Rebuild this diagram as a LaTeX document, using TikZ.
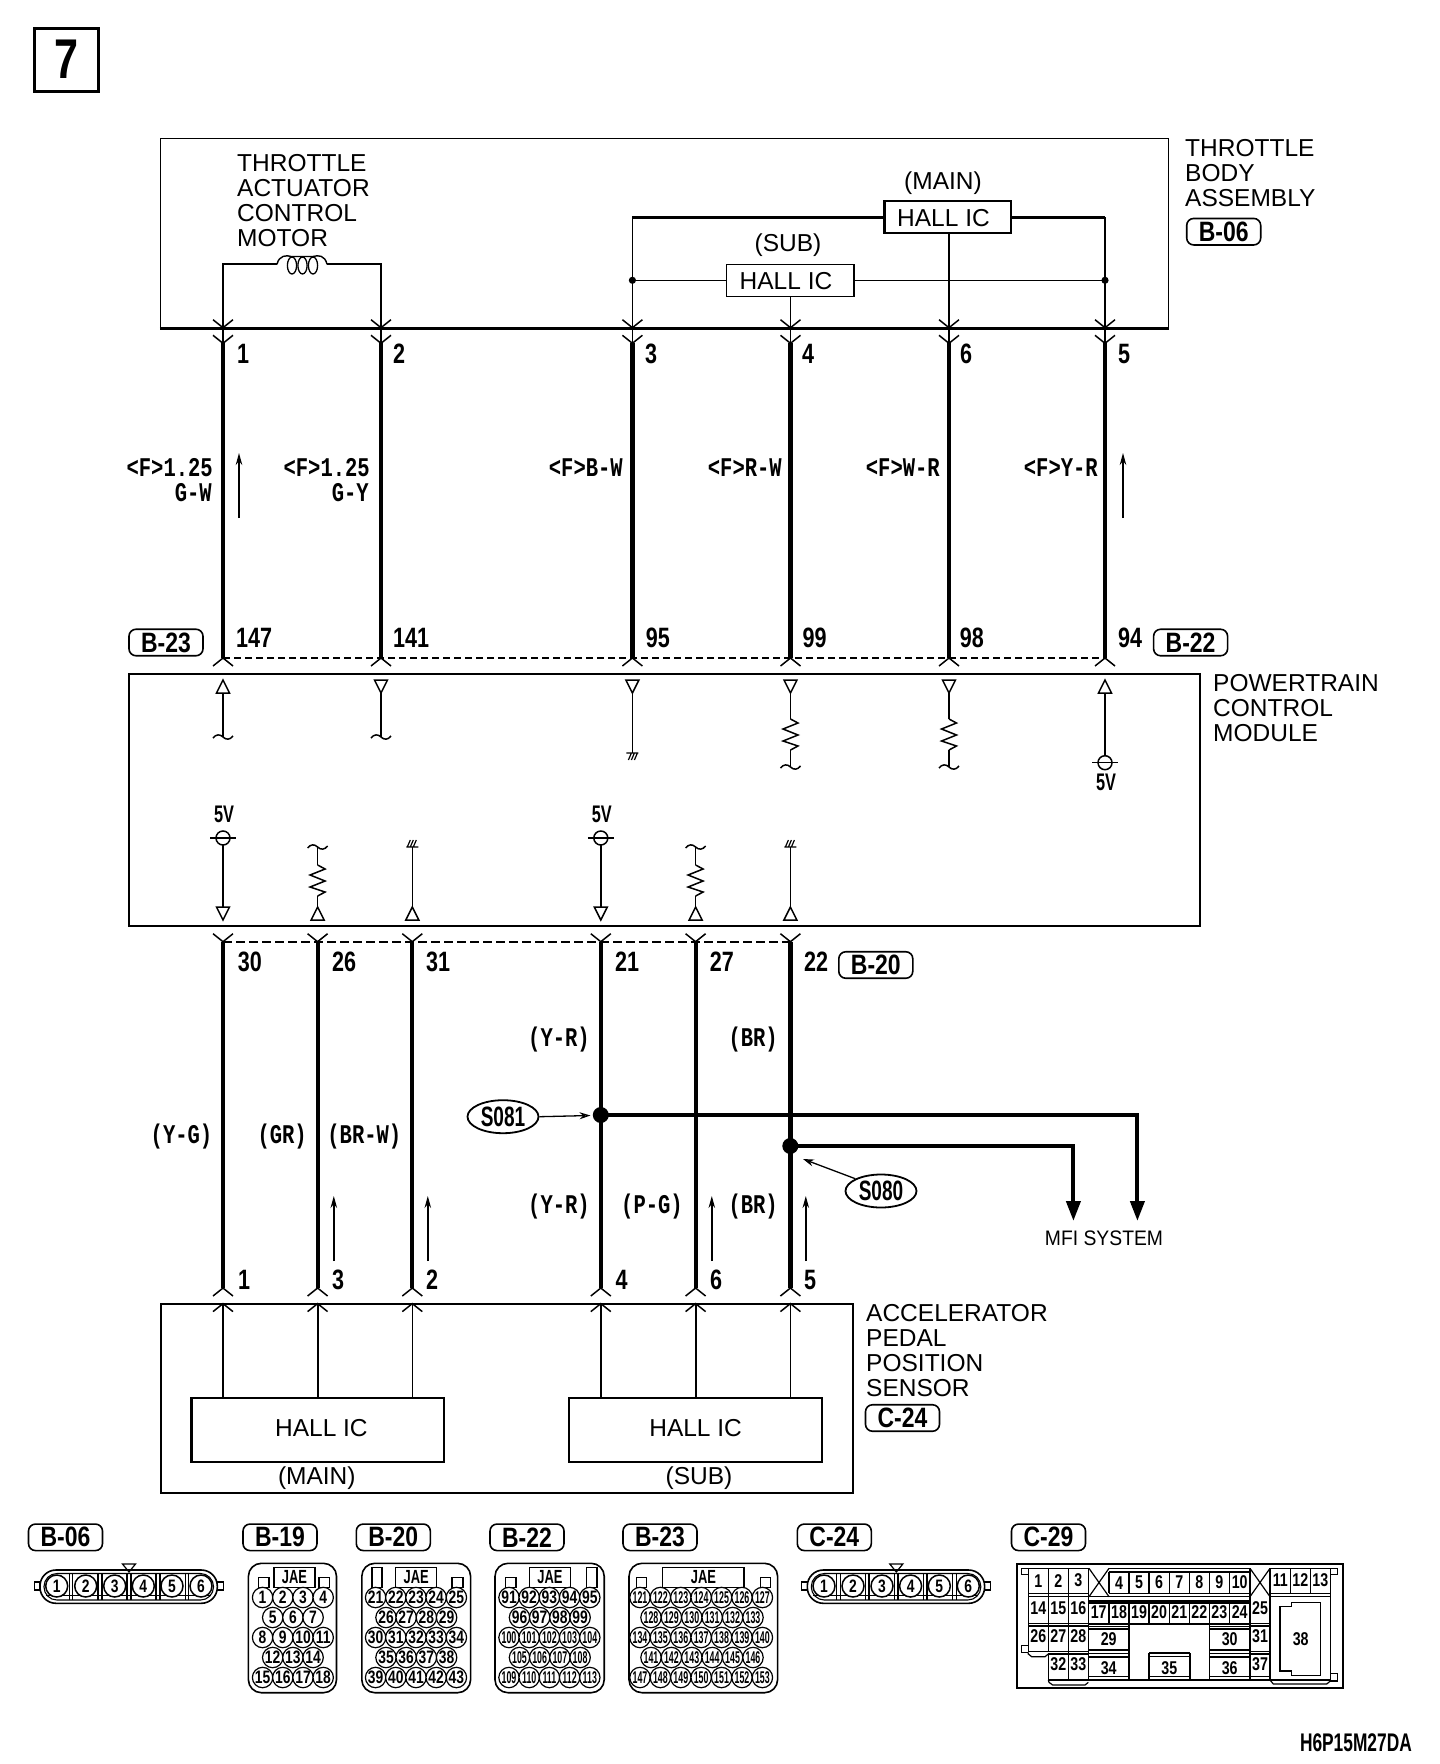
\documentclass[tikz,border=0pt]{standalone}
\usepackage{fontspec}
\setmainfont{Liberation Sans}
\newfontfamily\fnb[FakeStretch=0.77]{Liberation Sans}
\newfontfamily\fnd[FakeStretch=0.68]{Liberation Sans}
\newfontfamily\fne[FakeStretch=0.52]{Liberation Sans}
\newfontfamily\fnt[FakeStretch=0.82]{Liberation Sans}
\newfontfamily\fnm[FakeStretch=0.76]{Liberation Mono}
\newfontfamily\fnf[FakeStretch=0.92]{Liberation Sans}
\usetikzlibrary{arrows.meta,shapes.geometric}
\tikzset{
  thickwire/.style={line width=4.2pt},
  thinwire/.style={line width=1.4pt},
  midwire/.style={line width=2pt},
  sym/.style={line width=1.5pt},
  boxthin/.style={draw,line width=1.4pt,inner sep=0pt},
  boxmid/.style={draw,line width=2.2pt,inner sep=0pt},
  txt/.style={inner sep=0pt,font=\fontsize{24.5}{24.5}\selectfont},
  txtw/.style={txt,anchor=base west},
  txtc/.style={txt,anchor=base},
  pinnum/.style={inner sep=0pt,anchor=base west,font=\fnb\bfseries\fontsize{28}{28}\selectfont},
  wlab/.style={inner sep=0pt,anchor=base east,font=\fnm\bfseries\fontsize{27}{27}\selectfont},
  volt/.style={inner sep=0pt,anchor=base,font=\fnd\bfseries\fontsize{24}{24}\selectfont},
  tagbox/.style={draw,line width=1.6pt,rounded corners=7pt,minimum width=74pt,minimum height=26.5pt,inner sep=0pt,font=\fnt\bfseries\fontsize{28}{28}\selectfont},
  splice/.style={draw,ellipse,line width=1.8pt,minimum width=71pt,minimum height=33pt,inner sep=0pt,font=\fnd\bfseries\fontsize{28}{28}\selectfont},
  pinc/.style={draw,circle,fill=white,line width=1.2pt,minimum size=20.4pt,inner sep=0pt,font=\fnb\bfseries\fontsize{18}{18}\selectfont},
  pint/.style={pinc,font=\fne\bfseries\fontsize{17}{17}\selectfont},
  pinb/.style={pinc,minimum size=22pt,line width=1.5pt},
  cellnum/.style={inner sep=0pt,font=\fnb\bfseries\fontsize{18.5}{18.5}\selectfont},
  jaelab/.style={inner sep=0pt,font=\fnd\bfseries\fontsize{19}{19}\selectfont},
  connbody/.style={draw,line width=1.6pt,rounded corners=13pt},
  connpart/.style={draw,line width=1.2pt},
  flowarrow/.style={line width=1.4pt,-{Stealth[open,length=12pt,width=6.5pt]}},
  triD/.pic={\draw[sym] (-6.5,0)--(6.5,0)--(0,13)--cycle;},
  triU/.pic={\draw[sym] (-6.5,13)--(6.5,13)--(0,0)--cycle;},
  chevD/.pic={\draw[line width=1.5pt] (-10,-8)--(0,0)--(10,-8);},
  chevU/.pic={\draw[line width=1.5pt] (-10,8)--(0,0)--(10,8);},
  wave/.pic={\draw[sym] (-10,1) .. controls (-7,-3) and (-3,-3) .. (0,0) .. controls (3,3) and (7,3) .. (10,-1);},
  resist/.pic={\draw[sym] (0,0)--(7.5,4)--(-7.5,10)--(7.5,16)--(-7.5,22)--(7.5,27)--(0,31);},
  gndD/.pic={\draw[line width=1.2pt] (-6,0)--(6,0) (-1,0)--(-4,7) (2,0)--(-1,7) (5,0)--(2,7);},
  gndU/.pic={\draw[line width=1.2pt] (-6,0)--(6,0) (-2,0)--(1,-7) (1,0)--(4,-7) (-5,0)--(-2,-7);},
  srcsym/.pic={\draw[sym] (0,0) circle[radius=7pt]; \draw[sym] (-13,0)--(13,0);},
}
\begin{document}
\begin{tikzpicture}[x=1pt,y=-1pt]
\useasboundingbox (0,0) rectangle (1440,1764);

% page number
\node[draw,line width=2.6pt,minimum width=64pt,minimum height=63pt,inner sep=0pt,font=\fnb\bfseries\fontsize{56}{56}\selectfont] (pagebox) at (66.2,59.7) {7};

% ---------- main boxes
\node[boxthin,minimum width=1008pt,minimum height=189.5pt] (tbody) at (664.6,233) {};
\draw[line width=2.6pt] (tbody.south west) -- (tbody.south east);
\node[boxmid,minimum width=1070.7pt,minimum height=252pt] (pcm) at (664.3,799.7) {};
\node[boxmid,minimum width=692.3pt,minimum height=188.7pt] (aps) at (506.9,1398.3) {};

% ---------- pin coordinates
\foreach \n/\x in {a/223,b/381,c/632.4,d/790.5,e/949,f/1105}{
  \coordinate (tt\n) at (\x,327.7);
  \coordinate (tu\n) at (\x,343.3);
  \coordinate (tl\n) at (\x,658);
  \pic at (tt\n) {chevD};
  \pic at (tu\n) {chevD};
  \pic at (tl\n) {chevU};
  \draw[thickwire] (tu\n) -- (tl\n);
}
\foreach \n/\x in {a/223,b/317.6,c/412.3,d/600.8,e/695.6,f/790.4}{
  \coordinate (bu\n) at (\x,941.7);
  \coordinate (bl\n) at (\x,1288);
  \coordinate (bb\n) at (\x,1303.6);
  \pic at (bu\n) {chevD};
  \pic at (bl\n) {chevU};
  \pic at (bb\n) {chevU};
  \draw[thickwire] (bu\n) -- (bl\n);
}
\draw[line width=1.2pt,dash pattern=on 7pt off 4pt] (tla) -- (tlf);
\draw[line width=2pt,dash pattern=on 9pt off 4pt] (bua) -- (buf);

% ---------- throttle body internals
\node[txtw] (tm1) at (237,171.7) {THROTTLE};
\node[txtw] (tm2) at (237,196.7) {ACTUATOR};
\node[txtw] (tm3) at (237,221.7) {CONTROL};
\node[txtw] (tm4) at (237,246.7) {MOTOR};
\coordinate (coilL) at (277,264.3);
\coordinate (coilR) at (327,264.3);
\draw[midwire] (tua) -- (tua |- coilL) -- (coilL);
\draw[midwire] (tub) -- (tub |- coilR) -- (coilR);
\draw[line width=1.4pt] (coilL) .. controls (279,255) and (287,255) .. (291,256.5) -- (313,256.5) .. controls (318,255) and (325,255) .. (coilR);
\foreach \x in {292,302.5,313}{\draw[line width=1.3pt] (\x,265.5) ellipse[x radius=4.6pt,y radius=8.5pt];}

\node[boxmid,fill=white,minimum width=126.2pt,minimum height=32pt] (hallM) at (947.6,217.3) {};
\node[txtc] (hallMt) at (943.5,226.5) {HALL IC};
\node[txtc] (mainA) at (943,189.5) {(MAIN)};
\node[boxthin,line width=1.6pt,fill=white,minimum width=127.2pt,minimum height=32pt] (hallS) at (790.1,280.3) {};
\node[txtc] (hallSt) at (786,289.3) {HALL IC};
\node[txtc] (subA) at (788,251.5) {(SUB)};
\draw[line width=2.6pt] (hallM.west) -- (tuc |- hallM.west) ;
\draw[line width=2.6pt] (hallM.east) -- (tuf |- hallM.east);
\draw[thinwire] (tuc |- hallM.west) -- (tuc);
\draw[thinwire] (tuf |- hallM.east) -- (tuf);
\draw[thinwire] (hallS.west) -- (tuc |- hallS.west);
\draw[thinwire] (hallS.east) -- (tuf |- hallS.east);
\fill (tuc |- hallS.west) circle[radius=3.6pt];
\fill (tuf |- hallS.east) circle[radius=3.6pt];
\draw[line width=1.1pt] (hallS.south -| tud) -- (tud);
\draw[midwire] (hallM.south -| tue) -- (tue);

\node[txtw] (tb1) at (1185,156) {THROTTLE};
\node[txtw] (tb2) at (1185,181) {BODY};
\node[txtw] (tb3) at (1185,206) {ASSEMBLY};
\node[tagbox] (tagTop) at (1223.7,231.7) {B-06};

% ---------- upper pin numbers and wire labels
\foreach \t/\x in {1/237,2/393,3/645,4/802,6/959.8,5/1118}{\node[pinnum] (utop\t) at (\x,363.5) {\t};}
\node[wlab] (lw1) at (213,476.5) {<F>1.25};
\node[wlab] (lw1b) at (212,501) {G-W};
\node[wlab] (lw2) at (370,476.5) {<F>1.25};
\node[wlab] (lw2b) at (369,501) {G-Y};
\node[wlab] (lw3) at (623,476.5) {<F>B-W};
\node[wlab] (lw4) at (782,476.5) {<F>R-W};
\node[wlab] (lw5) at (940,476.5) {<F>W-R};
\node[wlab] (lw6) at (1098,476.5) {<F>Y-R};
\coordinate (fa1s) at (239,518); \coordinate (fa1e) at (239,453);
\coordinate (fa2s) at (1123,518); \coordinate (fa2e) at (1123,453);
\draw[flowarrow] (fa1s) -- (fa1e);
\draw[flowarrow] (fa2s) -- (fa2e);

\foreach \t/\x in {147/236,141/393,95/645.7,99/802.4,98/959.6,94/1118}{\node[pinnum] (ulow\t) at (\x,647) {\t};}
\node[tagbox] (tagB23) at (166,642.5) {B-23};
\node[tagbox] (tagB22) at (1190.6,642.5) {B-22};

% ---------- PCM internals
\node[txtw] (pc1) at (1213,691.7) {POWERTRAIN};
\node[txtw] (pc2) at (1213,716.7) {CONTROL};
\node[txtw] (pc3) at (1213,741.7) {MODULE};

% upper row
\pic at (223,680) {triU};
\coordinate (ia1) at (223,693); \coordinate (ia2) at (223,737);
\draw[midwire] (ia1) -- (ia2); \pic at (ia2) {wave};
\pic at (381,680) {triD};
\coordinate (ib1) at (381,693); \coordinate (ib2) at (381,737);
\draw[midwire] (ib1) -- (ib2); \pic at (ib2) {wave};
\pic at (632.4,680) {triD};
\coordinate (ic1) at (632.4,693); \coordinate (ic2) at (632.4,753);
\draw[line width=1.1pt] (ic1) -- (ic2); \pic at (ic2) {gndD};
\pic at (790.5,680) {triD};
\coordinate (id1) at (790.5,693); \coordinate (id2) at (790.5,719); \coordinate (id3) at (790.5,750); \coordinate (id4) at (790.5,767);
\draw[line width=1.2pt] (id1) -- (id2) (id3) -- (id4); \pic at (id2) {resist}; \pic at (id4) {wave};
\pic at (949,680) {triD};
\coordinate (ie1) at (949,693); \coordinate (ie2) at (949,719); \coordinate (ie3) at (949,750); \coordinate (ie4) at (949,767);
\draw[line width=1.2pt] (ie1) -- (ie2) (ie3) -- (ie4); \pic at (ie2) {resist}; \pic at (ie4) {wave};
\pic at (1105,680) {triU};
\coordinate (if1) at (1105,693); \coordinate (if2) at (1105,756);
\draw[midwire] (if1) -- (if2); \pic at (1105,762.7) {srcsym};
\node[volt] (v5a) at (1106,790) {5V};

% lower row
\foreach \n/\x in {a/223,d/600.8}{
  \pic at (\x,838) {srcsym};
  \coordinate (js\n) at (\x,845); \coordinate (je\n) at (\x,907);
  \draw[midwire] (js\n) -- (je\n);
  \pic at (je\n) {triD};
  \node[volt] (vl\n) at (\x+1,822) {5V};
}
\foreach \n/\x in {b/317.6,e/695.6}{
  \coordinate (js\n) at (\x,847); \coordinate (jm\n) at (\x,865); \coordinate (jn\n) at (\x,896); \coordinate (je\n) at (\x,907);
  \draw[line width=1.2pt] (js\n) -- (jm\n) (jn\n) -- (je\n);
  \pic at (js\n) {wave}; \pic at (jm\n) {resist}; \pic at (je\n) {triU};
}
\foreach \n/\x in {c/412.3,f/790.4}{
  \coordinate (js\n) at (\x,847); \coordinate (je\n) at (\x,907);
  \draw[line width=1.1pt] (js\n) -- (je\n);
  \pic at (js\n) {gndU};
  \pic at (je\n) {triU};
}

% ---------- lower wires
\foreach \t/\x in {30/237.6,26/332,31/426,21/615,27/709.6,22/804}{\node[pinnum] (dtop\t) at (\x,971) {\t};}
\node[tagbox] (tagB20) at (875.8,965) {B-20};
\node[wlab] (ll1) at (212.5,1143) {(Y-G)};
\node[wlab] (ll2) at (307,1143) {(GR)};
\node[wlab] (ll3) at (401.5,1143) {(BR-W)};
\node[wlab] (ll4) at (590,1046) {(Y-R)};
\node[wlab] (ll5) at (778,1046) {(BR)};
\node[wlab] (ll6) at (590,1213) {(Y-R)};
\node[wlab] (ll7) at (683,1213) {(P-G)};
\node[wlab] (ll8) at (778,1213) {(BR)};

\coordinate (sp81) at (600.8,1115);
\coordinate (sp80) at (790.3,1146);
\coordinate (mfiA) at (1073.4,1221);
\coordinate (mfiB) at (1137.4,1221);
\draw[line width=4pt,-{Triangle[length=20pt,width=14pt]}] (sp81) -| (mfiB);
\draw[line width=4pt,-{Triangle[length=20pt,width=14pt]}] (sp80) -| (mfiA);
\fill (sp81) ellipse[x radius=8pt,y radius=8pt];
\fill (sp80) ellipse[x radius=8pt,y radius=8pt];
\node[inner sep=0pt,anchor=base,font=\fnf\fontsize{21}{21}\selectfont] (mfi) at (1104,1245) {MFI SYSTEM};
\node[splice] (s81) at (503,1116.7) {S081};
\node[splice] (s80) at (881,1191) {S080};
\draw[line width=1.3pt,-{Stealth[open,length=11pt,width=7pt]}] (s81.east) -- (590.5,1115.5);
\draw[line width=1.3pt,-{Stealth[open,length=11pt,width=7pt]}] (s80.north west) -- (803,1159);
\foreach \x in {333.8,427.8,711.8,805.8}{\draw[flowarrow] (\x,1261) -- (\x,1196);}
\foreach \t/\x in {1/238,3/332,2/425.8,4/615.3,6/709.9,5/803.9}{\node[pinnum] (dlow\t) at (\x,1289.8) {\t};}

% ---------- accelerator pedal sensor
\node[boxmid,minimum width=252.6pt,minimum height=63.7pt] (hallL) at (317.7,1430.2) {};
\node[boxmid,minimum width=252.5pt,minimum height=63.7pt] (hallR) at (695.6,1430.2) {};
\node[txtc] (hallLt) at (321.4,1436.7) {HALL IC};
\node[txtc] (hallRt) at (695.6,1436.7) {HALL IC};
\node[txtc] (mainB) at (316.8,1484) {(MAIN)};
\node[txtc] (subB) at (699,1484) {(SUB)};
\draw[midwire] (bba) -- (bba |- hallL.north);
\draw[midwire] (bbb) -- (bbb |- hallL.north);
\draw[thinwire] (bbc) -- (bbc |- hallL.north);
\draw[thinwire] (bbd) -- (bbd |- hallR.north);
\draw[midwire] (bbe) -- (bbe |- hallR.north);
\draw[line width=1.1pt] (bbf) -- (bbf |- hallR.north);
\node[txtw] (ap1) at (866,1321.7) {ACCELERATOR};
\node[txtw] (ap2) at (866,1346.7) {PEDAL};
\node[txtw] (ap3) at (866,1371.7) {POSITION};
\node[txtw] (ap4) at (866,1396.7) {SENSOR};
\node[tagbox] (tagC24) at (902.5,1418) {C-24};

% ---------- connector tags
\foreach \t/\x/\n in {B-06/65.5/a,B-19/280/b,B-20/393.3/c,B-22/527/d,B-23/660/e,C-24/834.3/f,C-29/1048.5/g}{
  \node[tagbox] (ctag\n) at (\x,1537.3) {\t};
}

% ---------- six pin connectors
\foreach \k/\o in {s/0,t/767.3}{
\begin{scope}[shift={(\o,0)}]
  \draw[connpart] (34.5,1582) rectangle (40,1590);
  \draw[connpart] (217.3,1582) rectangle (223.3,1590);
  \draw[line width=1.6pt,rounded corners=16pt] (40,1570) rectangle (217.3,1603.3);
  \draw[line width=1.1pt,rounded corners=13pt] (44,1573.5) rectangle (213.5,1600);
  \draw[line width=1.2pt] (46,1595.7) -- (211,1595.7);
  \foreach \x/\w in {71/1,100/1.5,129/1.5,158/1.5,187/1}{
    \draw[line width=\w pt] (\x-1.8,1573.5) -- (\x-1.8,1600) (\x+1.8,1573.5) -- (\x+1.8,1600);
  }
  \foreach \p/\x in {1/56.7,2/85.7,3/114.7,4/143.3,5/172,6/201}{
    \node[pinb] (pin\k\p) at (\x,1586) {\p};
  }
  \draw[line width=1.2pt] (122.5,1564) -- (135.5,1564) -- (129,1572) -- cycle;
\end{scope}
}

% ---------- B-19
\draw[connbody] (248.4,1563.3) rectangle (336.5,1692.7);
\node[connpart,minimum width=41pt,minimum height=19.6pt,inner sep=0pt] (b19j) at (294.5,1577.5) {};
\node[jaelab] (b19k) at (b19j.center) {JAE};
\draw[connpart] (258.5,1577.7) rectangle (269,1587.3);
\draw[connpart] (319,1577.7) rectangle (329.7,1587.3);
\foreach \r/\y/\x/\l in {0/1597.5/262.6/{1,2,3,4},1/1617.5/272.7/{5,6,7},2/1637.5/262.6/{8,9,10,11},3/1657.5/272.7/{12,13,14},4/1677.5/262.6/{15,16,17,18}}{
  \foreach \p [count=\i from 0] in \l {\node[pinc] (bn\p) at ({\x+20.2*\i},\y) {\p};}
}
% ---------- B-20
\draw[connbody] (361.8,1563.3) rectangle (470.6,1692.7);
\node[connpart,minimum width=41pt,minimum height=19.6pt,inner sep=0pt] (b20j) at (416.2,1577.5) {};
\node[jaelab] (b20k) at (b20j.center) {JAE};
\draw[connpart] (372,1567.7) rectangle (382,1587.3);
\draw[connpart] (452,1577.7) rectangle (463,1587.3);
\foreach \r/\y/\x/\l in {0/1597.5/375.6/{21,22,23,24,25},1/1617.5/386/{26,27,28,29},2/1637.5/375.6/{30,31,32,33,34},3/1657.5/386/{35,36,37,38},4/1677.5/375.6/{39,40,41,42,43}}{
  \foreach \p [count=\i from 0] in \l {\node[pinc] (bp\p) at ({\x+20.2*\i},\y) {\p};}
}
% ---------- B-22
\draw[connbody] (495,1563.3) rectangle (604.2,1692.7);
\node[connpart,minimum width=41pt,minimum height=19.6pt,inner sep=0pt] (b22j) at (550,1577.5) {};
\node[jaelab] (b22k) at (b22j.center) {JAE};
\draw[connpart] (505.5,1577.7) rectangle (516,1587.3);
\draw[connpart] (586.3,1567.7) rectangle (597,1587.3);
\foreach \r/\y/\x/\l/\s in {0/1597.5/509/{91,92,93,94,95}/pinc,1/1617.5/519.5/{96,97,98,99}/pinc,2/1637.5/509/{100,101,102,103,104}/pint,3/1657.5/519.5/{105,106,107,108}/pint,4/1677.5/509/{109,110,111,112,113}/pint}{
  \foreach \p [count=\i from 0] in \l {\node[\s] (bq\p) at ({\x+20.2*\i},\y) {\p};}
}
% ---------- B-23
\draw[connbody] (629,1563.3) rectangle (777.6,1692.7);
\node[connpart,minimum width=81.3pt,minimum height=19.6pt,inner sep=0pt] (b23j) at (703.4,1577.5) {};
\node[jaelab] (b23k) at (b23j.center) {JAE};
\draw[connpart] (636.7,1577.7) rectangle (646.7,1587.3);
\draw[connpart] (760.7,1577.7) rectangle (770.7,1587.3);
\foreach \r/\y/\x/\l in {0/1597.5/640/{121,122,123,124,125,126,127},1/1617.5/651/{128,129,130,131,132,133},2/1637.5/640/{134,135,136,137,138,139,140},3/1657.5/651/{141,142,143,144,145,146},4/1677.5/640/{147,148,149,150,151,152,153}}{
  \foreach \p [count=\i from 0] in \l {\node[pint] (br\p) at ({\x+20.4*\i},\y) {\p};}
}

% ---------- C-29
\begin{scope}[shift={(1010,1555)},x=0.33333pt,y=-0.33333pt]
  \draw[line width=2.2pt] (22,28) rectangle (998,398);
  \tikzset{cl/.style={line width=1.2pt},clb/.style={line width=2.2pt}}
  % tabs
  \draw[cl] (55,40) -- (35,40) -- (35,58) -- (55,58);
  \draw[cl] (55,272) -- (35,272) -- (35,292) -- (55,292);
  \draw[cl] (961,40) -- (982,40) -- (982,58) -- (961,58);
  \draw[cl] (961,355) -- (982,355) -- (982,378) -- (961,378);
  % top
  \draw[cl] (55,40) -- (235,40);
  \draw[cl] (297,40) -- (720,40);
  \draw[cl] (780,40) -- (961,40);
  \draw[clb] (297,52) -- (720,52);
  \foreach \x in {55,115,175,235}{\draw[cl] (\x,40) -- (\x,205);}
  \foreach \x in {297,357,417,478,538,598,658,720}{\draw[cl] (\x,52) -- (\x,115);}
  \foreach \x in {297,357,417,478,538,598,658}{\draw[cl] (\x,145) -- (\x,205);}
  \foreach \x in {780,841,901}{\draw[cl] (\x,40) -- (\x,115);}
  \draw[cl] (961,40) -- (961,375);
  \draw[cl] (720,40) -- (720,375);
  \draw[cl] (780,40) -- (780,375);
  % crosses
  \draw[cl] (237,40) -- (297,125) (297,40) -- (237,125);
  \draw[cl] (720,125) -- (780,40) (720,40) -- (780,125);
  % horizontal bands
  \draw[cl] (55,115) -- (235,115) (55,125) -- (235,125);
  \draw[cl] (297,115) -- (720,115) (780,115) -- (961,115) (780,125) -- (961,125);
  \draw[cl] (235,125) -- (720,125) (235,138) -- (720,138);
  \draw[clb] (235,145) -- (720,145);
  \draw[cl] (55,205) -- (235,205);
  \draw[clb] (55,213) -- (235,213);
  \draw[clb] (235,207) -- (720,207);
  \draw[cl] (720,205) -- (780,205) (720,213) -- (780,213);
  \draw[clb] (235,222) -- (357,222) (598,222) -- (720,222);
  \draw[cl] (235,215) -- (357,215) (598,215) -- (720,215);
  \foreach \x in {55,115,175}{\draw[cl] (\x,205) -- (\x,292);}
  \draw[cl] (235,205) -- (235,375);
  \draw[cl] (357,207) -- (357,375);
  \draw[cl] (598,207) -- (598,375);
  \draw[cl] (115,295) -- (115,375) (175,292) -- (175,375);
  \draw[cl] (55,290) -- (235,290);
  \draw[cl] (55,292) -- (55,297) -- (65,305) -- (105,305) -- (115,297);
  \draw[clb] (115,298) -- (235,298);
  \draw[cl] (235,285) -- (357,285) (598,285) -- (720,285) (720,290) -- (780,290);
  \draw[cl] (235,295) -- (357,295) (598,295) -- (720,295);
  \draw[clb] (235,305) -- (357,305) (598,305) -- (720,305) (720,298) -- (780,298);
  % 35
  \draw[clb] (417,295) -- (540,295);
  \draw[cl] (417,305) -- (540,305);
  \draw[cl] (417,295) -- (417,375) (540,295) -- (540,375);
  % bottom
  \draw[clb] (115,375) -- (961,375);
  \draw[cl] (235,365) -- (357,365) (598,365) -- (720,365) (417,365) -- (540,365) (720,365) -- (780,365);
  \draw[cl] (115,375) -- (117,382) -- (128,390) -- (225,390) -- (235,382);
  \draw[cl] (780,375) -- (790,387) -- (950,387) -- (961,378);
  % 38 outline
  \draw[line width=1.4pt] (810,155) -- (845,155) -- (845,142) -- (932,142) -- (932,362) -- (845,362) -- (845,348) -- (810,348) -- cycle;
  % numbers
  \foreach \t/\x/\y in {1/85/78,2/145/78,3/205/76,4/327/83,5/387/81,6/447/81,7/508/81,8/568/81,9/628/81,10/689/81,11/811/75,12/871/75,13/931/75,
    14/85/160,15/145/160,16/205/160,17/266/172,18/327/172,19/387/172,20/447/172,21/508/172,22/568/172,23/628/172,24/689/172,25/750/158,
    26/85/242,27/145/242,28/205/242,29/296/253,30/659/253,31/750/242,
    32/145/326,33/205/326,34/296/338,35/478/338,36/659/338,37/750/326,38/872/252}{
    \node[cellnum] (cc\t) at (\x,\y) {\t};
  }
\end{scope}

% ---------- drawing code
\node[inner sep=0pt,anchor=base east,font=\fnd\bfseries\fontsize{25.5}{25.5}\selectfont] (dcode) at (1412,1751.7) {H6P15M27DA};
\end{tikzpicture}
\end{document}
